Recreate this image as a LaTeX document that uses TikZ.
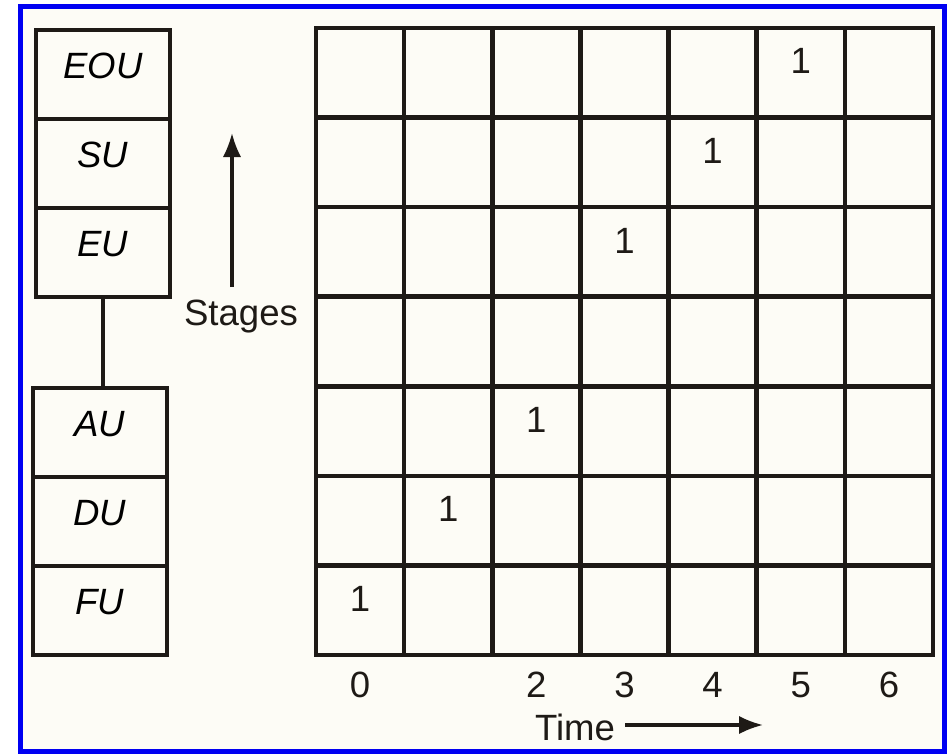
\documentclass[tikz,border=0pt]{standalone}
\usepackage{fontspec}
\setmainfont{Liberation Sans}
\usetikzlibrary{arrows.meta, positioning}
\definecolor{frameblue}{HTML}{0000F2}
\definecolor{paper}{HTML}{FDFCF6}
\definecolor{ink}{HTML}{1E1A16}

\begin{document}
\begin{tikzpicture}[
    x=0.025cm, y=-0.025cm,
    font=\fontsize{26}{30}\selectfont,
    frame/.style={draw=frameblue, fill=paper, line width=3.6pt},
    unit/.style={draw=ink, line width=3pt, minimum width=3.35cm, text height=1.2cm,
        text depth=1.025cm, inner sep=0pt, outer sep=0pt, font=\fontsize{26}{30}\selectfont\itshape},
    link/.style={draw=ink, line width=2.4pt},
    gridline/.style={draw=ink, line width=3.2pt},
    entry/.style={inner sep=0pt, anchor=base, text=ink},
    tick/.style={inner sep=0pt, anchor=base, text=ink},
    axlab/.style={inner sep=0pt, anchor=base, text=ink},
    axarrow/.style={-{Latex[length=6mm, width=4.6mm]}, line width=2.2pt, draw=ink}
]

\useasboundingbox (0,0) rectangle (947,754);

% =====================================================
% FRAME
% =====================================================
\path[frame] (20.5,6.5) rectangle (944.5,751.5);

% =====================================================
% UNIT STACKS (LEFT)
% =====================================================

% Upper stack
\node[unit, anchor=north] (eou) at (103, 30) {EOU};
\node[unit, below=0pt of eou] (su) {SU};
\node[unit, below=0pt of su]  (eu) {EU};

% Lower stack
\node[unit, anchor=north] (au) at (100, 388) {AU};
\node[unit, below=0pt of au] (du) {DU};
\node[unit, below=0pt of du] (fu) {FU};

% Link between the two stacks
\draw[link] (eu.south) -- (eu.south |- au.north);

% Stages label and arrow
\node[axlab, inner ysep=0.3cm] (stages) at (241, 325) {Stages};
\coordinate (stagestip) at (232, 133);
\draw[axarrow] (stages.north -| stagestip) -- (stagestip);

% =====================================================
% TIME--STAGE GRID (RIGHT)
% =====================================================

% Outer box and inner lines
\draw[gridline] (316,28) rectangle (933,655);
\foreach \i in {1,...,6} {
    \draw[gridline] ({316+88.14*\i}, 28) -- ({316+88.14*\i}, 655);
    \draw[gridline] (316, {28+89.57*\i}) -- (933, {28+89.57*\i});
}

% Occupied cells (row/column)
\foreach \r/\c in {6/0, 5/1, 4/2, 2/3, 1/4, 0/5}
    \node[entry] (one\c) at ({316+88.14*(\c+0.5)}, {28+89.57*\r+46}) {1};

% Time ticks
\foreach \c in {0,2,3,4,5,6}
    \node[tick] (t\c) at ({316+88.14*(\c+0.5)}, 697) {\c};

% Time label and arrow
\node[axlab, inner xsep=0.25cm] (time) at (575, 740) {Time};
\coordinate (timetip) at (763, 725);
\draw[axarrow] (time.east |- timetip) -- (timetip);

\end{tikzpicture}
\end{document}
